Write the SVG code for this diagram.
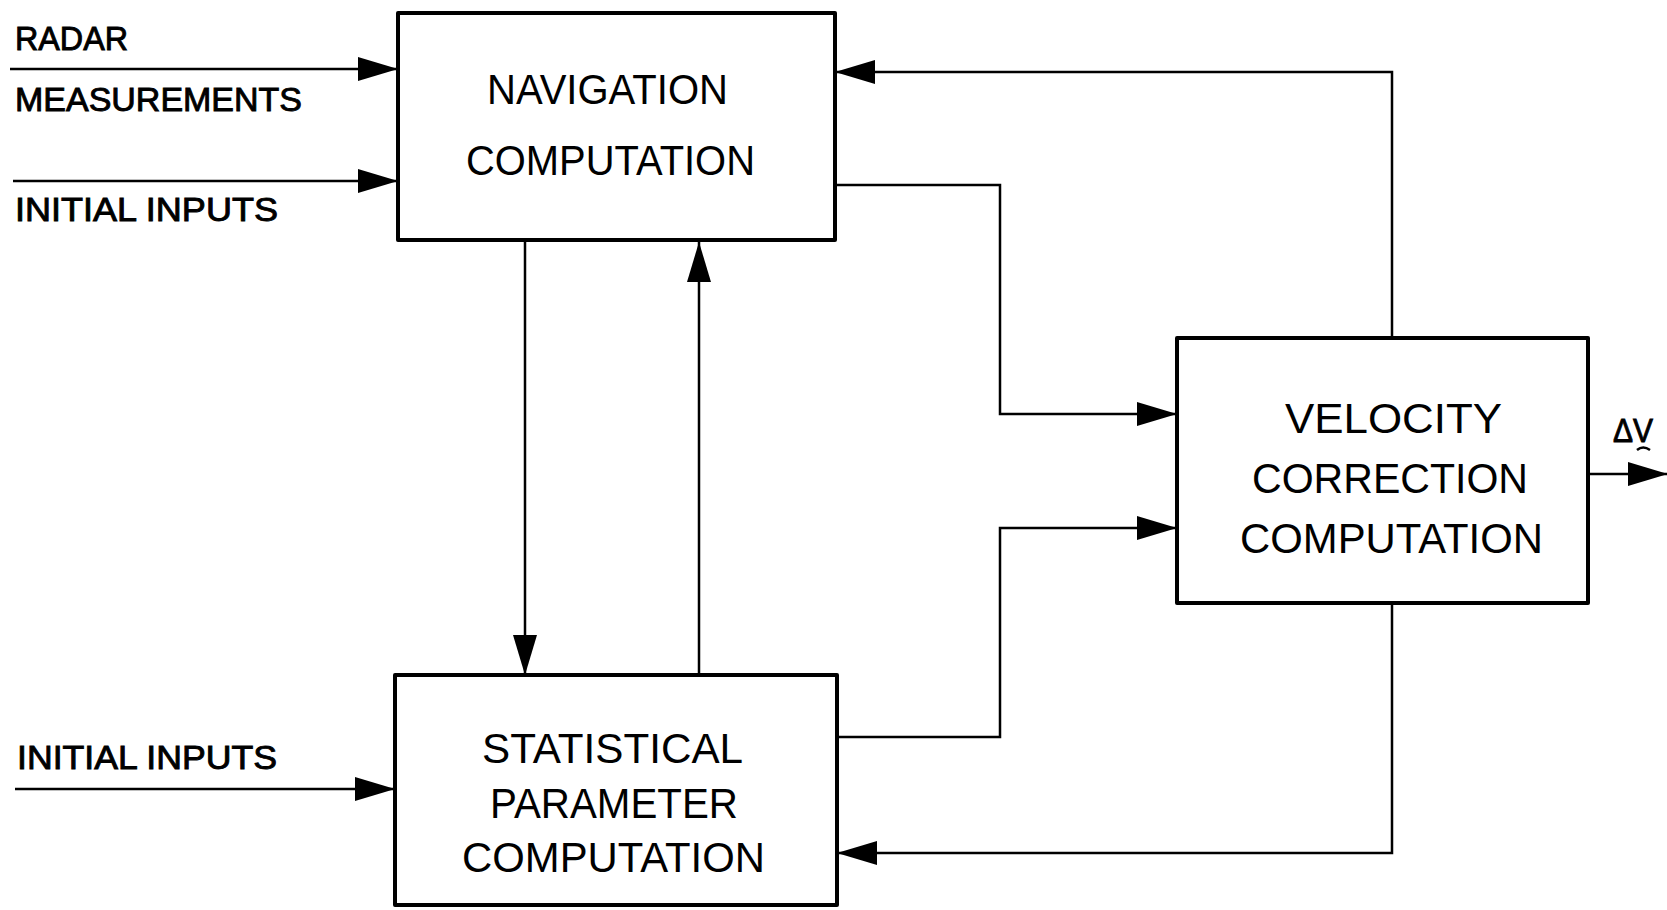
<svg xmlns="http://www.w3.org/2000/svg" width="1667" height="910" viewBox="0 0 1667 910">
<defs>
<style>
.box{fill:#fff;stroke:#000;stroke-width:4;stroke-linejoin:round}
.conn{fill:none;stroke:#000;stroke-width:2.5;marker-end:url(#ah)}
.plain{fill:none;stroke:#000;stroke-width:2.5}
.lbl{font-family:"Liberation Sans",Arial,sans-serif;font-size:42px;fill:#000}
.side{font-family:"Liberation Sans",Arial,sans-serif;font-size:33px;fill:#000;stroke:#000;stroke-width:0.9}
</style>
<marker id="ah" viewBox="0 0 40 24" refX="40" refY="12" markerWidth="40" markerHeight="24" markerUnits="userSpaceOnUse" orient="auto">
<path d="M0,0 L40,12 L0,24 Z" fill="#000"/>
</marker>
</defs>
<rect width="1667" height="910" fill="#fff"/>
<g id="connectors">
<path class="conn" d="M10,69 L398,69"/>
<path class="conn" d="M13,181 L398,181"/>
<path class="conn" d="M15,789 L395,789"/>
<path class="conn" d="M525,240 L525,675"/>
<path class="conn" d="M699,675 L699,242"/>
<path class="conn" d="M835,185 L1000,185 L1000,414 L1177,414"/>
<path class="conn" d="M837,737 L1000,737 L1000,528 L1177,528"/>
<path class="conn" d="M1392,338 L1392,72 L835,72"/>
<path class="conn" d="M1392,603 L1392,853 L837,853"/>
<path class="conn" d="M1588,474 L1668,474"/>
</g>
<g id="labels">
<text class="side" x="15" y="50" textLength="113" lengthAdjust="spacingAndGlyphs">RADAR</text>
<text class="side" x="15" y="111" textLength="287" lengthAdjust="spacingAndGlyphs">MEASUREMENTS</text>
<text class="side" x="15" y="221" textLength="263" lengthAdjust="spacingAndGlyphs">INITIAL INPUTS</text>
<text class="side" x="17" y="769" textLength="260" lengthAdjust="spacingAndGlyphs">INITIAL INPUTS</text>
<text class="side" x="1613" y="442" textLength="40" lengthAdjust="spacingAndGlyphs">ΔV</text>
<path class="plain" d="M1637,450 Q1643,445 1650,450"/>
</g>
<g id="navigation">
<rect class="box" x="398" y="13" width="437" height="227"/>
<text class="lbl" x="487" y="104" textLength="241" lengthAdjust="spacingAndGlyphs">NAVIGATION</text>
<text class="lbl" x="466" y="175" textLength="289" lengthAdjust="spacingAndGlyphs">COMPUTATION</text>
</g>
<g id="statistical">
<rect class="box" x="395" y="675" width="442" height="230"/>
<text class="lbl" x="482" y="763" textLength="261" lengthAdjust="spacingAndGlyphs">STATISTICAL</text>
<text class="lbl" x="490" y="818" textLength="248" lengthAdjust="spacingAndGlyphs">PARAMETER</text>
<text class="lbl" x="462" y="872" textLength="303" lengthAdjust="spacingAndGlyphs">COMPUTATION</text>
</g>
<g id="velocity">
<rect class="box" x="1177" y="338" width="411" height="265"/>
<text class="lbl" x="1285" y="433" textLength="217" lengthAdjust="spacingAndGlyphs">VELOCITY</text>
<text class="lbl" x="1252" y="493" textLength="276" lengthAdjust="spacingAndGlyphs">CORRECTION</text>
<text class="lbl" x="1240" y="553" textLength="303" lengthAdjust="spacingAndGlyphs">COMPUTATION</text>
</g>
</svg>
